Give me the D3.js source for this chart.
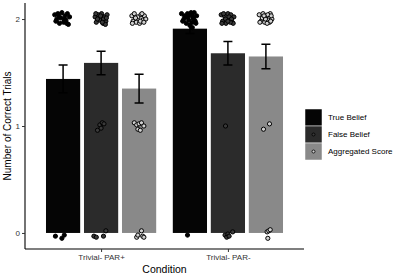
<!DOCTYPE html>
<html><head><meta charset="utf-8">
<script src="https://cdn.jsdelivr.net/npm/d3@7"></script>
<style>body{margin:0;background:#fff}svg{display:block;font-family:"Liberation Sans",Arial,sans-serif}</style>
</head><body><svg id="c" width="400" height="277"></svg>
<script>
const conditions = ["Trivial- PAR+", "Trivial- PAR-"];
const series = ["True Belief", "False Belief", "Aggregated Score"];
const yTicks = [0, 1, 2];
const meansPlus = [1.44, 1.59, 1.35];
const meansMinus = [1.91, 1.68, 1.65];
const sePlus = [0.13, 0.11, 0.135];
const seMinus = [0.045, 0.11, 0.115];
// jittered observations: [x jitter (fraction of bar), value]
const ptsTbPlus = [[-0.35,2.04],[-0.3,1.98],[-0.22,2.05],[-0.15,1.96],[-0.1,2.01],[-0.05,2.06],[0.02,1.97],[0.08,2.03],[0.12,1.99],[0.18,2.05],[0.22,1.95],[0.27,2.02],[-0.26,2.0],[0.05,2.0],[-0.18,2.03],[0.15,1.96],[-0.32,-0.03],[-0.05,-0.05],[0.05,-0.02]];
const ptsFbPlus = [[-0.25,2.02],[-0.2,1.97],[-0.12,2.04],[-0.05,1.99],[0.02,2.05],[0.08,1.96],[0.14,2.02],[0.2,1.98],[0.25,2.04],[-0.15,2.0],[0.1,2.0],[-0.02,2.03],[0.18,1.95],[-0.22,2.05],[0.05,1.97],[0.22,2.01],[-0.15,0.96],[-0.05,1.01],[0.05,1.03],[0.12,1.02],[0.0,0.98],[-0.3,-0.03],[-0.2,-0.04],[0.1,-0.03],[0.2,0.02]];
const ptsAgPlus = [[-0.3,2.03],[-0.25,1.98],[-0.2,2.05],[-0.12,1.97],[-0.05,2.02],[0.02,1.96],[0.08,2.04],[0.15,1.99],[0.22,2.03],[0.28,2.0],[-0.15,2.01],[0.05,1.98],[0.12,2.05],[-0.28,1.96],[0.2,1.97],[-0.2,1.03],[-0.1,1.01],[0.0,1.02],[0.1,1.03],[0.2,1.0],[-0.05,0.97],[0.05,0.96],[-0.1,-0.04],[-0.05,-0.02],[0.1,0.02],[0.15,-0.03],[0.2,-0.04]];
const ptsTbMinus = [[-0.35,2.05],[-0.3,1.98],[-0.22,2.03],[-0.15,1.96],[-0.1,2.05],[-0.05,1.99],[0.02,2.04],[0.08,1.97],[0.12,2.02],[0.18,2.06],[0.22,1.98],[0.28,2.03],[-0.25,2.0],[0.0,1.94],[0.05,2.06],[-0.18,2.02],[0.15,2.0],[0.25,1.96],[-0.08,2.02],[0.1,1.92],[-0.1,-0.02]];
const ptsFbMinus = [[-0.28,2.04],[-0.22,1.98],[-0.15,2.03],[-0.08,1.96],[0.0,2.05],[0.06,1.99],[0.12,2.04],[0.18,1.97],[0.25,2.02],[-0.25,1.96],[-0.1,2.0],[0.05,2.02],[0.15,2.0],[0.22,1.96],[-0.18,2.05],[0.1,1.97],[0.0,1.98],[-0.1,1.0],[-0.12,-0.02],[-0.05,-0.04],[0.0,-0.01],[0.05,-0.03],[0.2,0.01]];
const ptsAgMinus = [[-0.28,2.04],[-0.2,1.98],[-0.12,2.05],[-0.05,1.97],[0.02,2.03],[0.1,1.99],[0.18,2.05],[0.25,2.0],[-0.25,1.97],[-0.15,2.01],[-0.02,2.0],[0.08,2.04],[0.15,1.97],[0.22,2.03],[-0.08,2.03],[0.05,1.96],[0.2,1.98],[-0.1,0.97],[0.15,1.02],[0.05,0.01],[0.12,0.02],[0.18,0.03],[0.08,-0.05]];

const colors = ["#050505", "#2b2b2b", "#898989"];
const ptFill = ["#000000", "#3a3a3a", "#d0d0d0"];

const svg = d3.select("#c");
const x = d3.scalePoint().domain(conditions).range([25, 304]).padding(0.6);
const xi = d3.scaleBand().domain(series).range([-57, 57]).paddingInner(0.1).paddingOuter(0.05);
const y = d3.scaleLinear().domain([-0.15, 2.15]).range([249, 3]);
const color = d3.scaleOrdinal().domain(series).range(colors);
const fill = d3.scaleOrdinal().domain(series).range(ptFill);
const jitterW = xi.bandwidth() * 0.7;

const bars = [];
conditions.forEach((c, ci) => series.forEach((s, si) => {
  bars.push({c, s, m: ci ? meansMinus[si] : meansPlus[si], se: ci ? seMinus[si] : sePlus[si]});
}));
const ptSets = [[ptsTbPlus, ptsFbPlus, ptsAgPlus], [ptsTbMinus, ptsFbMinus, ptsAgMinus]];

const cx = d => x(d.c) + xi(d.s) + xi.bandwidth() / 2;

svg.append("g").selectAll("rect").data(bars).join("rect")
  .attr("x", d => x(d.c) + xi(d.s)).attr("width", xi.bandwidth())
  .attr("y", d => y(d.m)).attr("height", d => y(0) - y(d.m))
  .attr("fill", d => color(d.s));

const pts = [];
conditions.forEach((c, ci) => series.forEach((s, si) => {
  ptSets[ci][si].forEach(p => pts.push({c, s, j: p[0], v: p[1]}));
}));
svg.append("g").selectAll("circle").data(pts).join("circle")
  .attr("cx", d => cx(d) + d.j * jitterW).attr("cy", d => y(d.v)).attr("r", 2.1)
  .attr("fill", d => fill(d.s)).attr("stroke", "#000").attr("stroke-width", 1);

const eb = svg.append("g").attr("stroke", "#000").attr("stroke-width", 1.5).attr("fill", "none");
bars.forEach(d => {
  const c = cx(d), hi = y(d.m + d.se), lo = y(d.m - d.se);
  eb.append("path").attr("d", `M${c - 4.5},${hi}H${c + 4.5}M${c},${hi}V${lo}M${c - 4.5},${lo}H${c + 4.5}`);
});

// axes
const yAxis = svg.append("g").attr("transform", "translate(25,0)")
  .call(d3.axisLeft(y).tickValues(yTicks).tickSize(3).tickPadding(2).tickFormat(d3.format("d")));
const xAxis = svg.append("g").attr("transform", "translate(0,249)")
  .call(d3.axisBottom(x).tickSize(3).tickPadding(2));
[yAxis, xAxis].forEach(a => {
  a.select(".domain").attr("stroke", "#000").attr("stroke-width", 1.1);
  a.selectAll(".tick line").attr("stroke", "#333");
  a.selectAll(".tick text").attr("fill", "#333").style("font-size", "8px").style("font-family", "Liberation Sans, Arial, sans-serif");
});
yAxis.select(".domain").attr("d", "M0,3V249");
xAxis.select(".domain").attr("d", "M25,0H304");

svg.append("text").attr("x", 164.5).attr("y", 273).attr("text-anchor", "middle")
  .style("font-size", "10.5px").text("Condition");
svg.append("text").attr("transform", "translate(11,126) rotate(-90)").attr("text-anchor", "middle")
  .style("font-size", "10px").text("Number of Correct Trials");

// legend
const lg = svg.append("g").attr("transform", "translate(305,109)");
series.forEach((s, i) => {
  const g = lg.append("g").attr("transform", `translate(0,${i * 17})`);
  g.append("rect").attr("width", 17).attr("height", 17).attr("fill", color(s)).attr("stroke", "#fff").attr("stroke-width", 0.5);
  if (i > 0) g.append("circle").attr("cx", 8.5).attr("cy", 8.5).attr("r", 1.5).attr("fill", fill(s)).attr("stroke", "#000").attr("stroke-width", 0.8);
  g.append("text").attr("x", 23).attr("y", 8.5).attr("dy", "0.35em").style("font-size", "8px").text(s);
});
</script></body></html>
